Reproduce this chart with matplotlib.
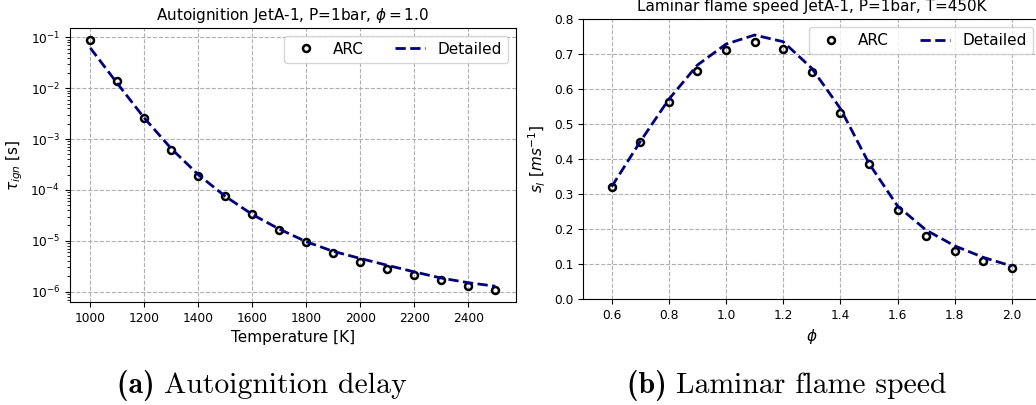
import matplotlib
matplotlib.use('Agg')
import matplotlib.pyplot as plt
import numpy as np

# Autoignition delay data
T_arc = [1000, 1100, 1200, 1300, 1400, 1500, 1600, 1700, 1800, 1900, 2000, 2100, 2200, 2300, 2400, 2500]
tau_arc = [8.7e-2, 1.36e-2, 2.6e-3, 6.1e-4, 1.92e-4, 7.55e-5, 3.34e-5, 1.66e-5,
           9.4e-6, 5.86e-6, 3.9e-6, 2.8e-6, 2.1e-6, 1.7e-6, 1.29e-6, 1.1e-6]
T_det = [1000, 1100, 1200, 1300, 1400, 1500, 1600, 1700, 1800, 1900, 2000, 2100, 2200, 2300, 2400, 2500]
tau_det = [6.2e-2, 1.25e-2, 2.6e-3, 6.5e-4, 2.0e-4, 7.5e-5, 3.3e-5, 1.7e-5,
           9.6e-6, 6.2e-6, 4.5e-6, 3.3e-6, 2.45e-6, 1.85e-6, 1.5e-6, 1.28e-6]

# Laminar flame speed data
phi_arc = [0.6, 0.7, 0.8, 0.9, 1.0, 1.1, 1.2, 1.3, 1.4, 1.5, 1.6, 1.7, 1.8, 1.9, 2.0]
sl_arc = [0.319, 0.448, 0.563, 0.652, 0.711, 0.734, 0.716, 0.648, 0.531, 0.387,
          0.254, 0.181, 0.137, 0.109, 0.088]
phi_det = [0.6, 0.7, 0.8, 0.9, 1.0, 1.1, 1.2, 1.3, 1.4, 1.5, 1.6, 1.7, 1.8, 1.9, 2.0]
sl_det = [0.321, 0.45, 0.571, 0.669, 0.729, 0.755, 0.736, 0.66, 0.545, 0.388,
          0.266, 0.197, 0.152, 0.119, 0.094]

W, H = 1036, 405
fig = plt.figure(figsize=(W / 100, H / 100), dpi=100)

grid_kw = dict(color='#b0b0b0', linestyle='--', linewidth=0.8)
arc_kw = dict(linestyle='none', marker='o', markersize=5, markerfacecolor='none',
              markeredgecolor='black', markeredgewidth=1.8, label='ARC')
det_kw = dict(color='#00007f', linestyle='--', linewidth=2, label='Detailed')
tick_fs = 8.8
lab_fs = 11


def px_axes(l, t, r, b):
    return fig.add_axes([l / W, 1 - b / H, (r - l) / W, (b - t) / H])


# (a) autoignition
ax1 = px_axes(70, 28, 515.5, 302)
ax1.plot(T_arc, tau_arc, **arc_kw)
ax1.plot(T_det, tau_det, **det_kw)
ax1.set_yscale('log')
ax1.set_xlim(925, 2575)
ax1.set_xticks([1000, 1200, 1400, 1600, 1800, 2000, 2200, 2400])
ax1.grid(True, which='major', **grid_kw)
ax1.set_title(r'Autoignition JetA-1, P=1bar, $\phi=1.0$', fontsize=lab_fs)
ax1.set_xlabel('Temperature [K]', fontsize=lab_fs)
ax1.set_ylabel(r'$\tau_{ign}$ [s]', fontsize=lab_fs)
ax1.tick_params(labelsize=tick_fs)
ax1.legend(loc='upper right', ncol=2, fontsize=lab_fs)

# (b) laminar flame speed
ax2 = px_axes(583, 19.3, 1040.5, 299)
ax2.plot(phi_arc, sl_arc, **arc_kw)
ax2.plot(phi_det, sl_det, **det_kw)
ax2.set_xlim(0.5, 2.1)
ax2.set_ylim(0, 0.8)
ax2.set_xticks([0.6, 0.8, 1.0, 1.2, 1.4, 1.6, 1.8, 2.0])
ax2.grid(True, **grid_kw)
ax2.set_title('Laminar flame speed JetA-1, P=1bar, T=450K', fontsize=lab_fs)
ax2.set_xlabel(r'$\phi$', fontsize=lab_fs)
ax2.set_ylabel(r'$s_l\ [ms^{-1}]$', fontsize=lab_fs)
ax2.tick_params(labelsize=tick_fs)
ax2.legend(loc='upper right', ncol=2, fontsize=lab_fs)

# subfigure captions
cap_y = 1 - 393 / H
for xc, tag, txt in [(262, '(a)', 'Autoignition delay'), (787, '(b)', 'Laminar flame speed')]:
    fig.text(xc / W, cap_y, tag + ' ', family='cmb10', fontsize=21.4, ha='right', va='baseline')
    fig.text(xc / W, cap_y, txt, family='cmr10', fontsize=21.4, ha='left', va='baseline')

# center each caption pair on its x position
fig.canvas.draw()
r = fig.canvas.get_renderer()
for i in range(0, len(fig.texts), 2):
    a, b = fig.texts[i], fig.texts[i + 1]
    wa = a.get_window_extent(r).width
    wb = b.get_window_extent(r).width
    shift = (wa - wb) / 2 / W
    a.set_x(a.get_position()[0] + shift)
    b.set_x(b.get_position()[0] + shift)

fig.savefig('out.png', dpi=100)
